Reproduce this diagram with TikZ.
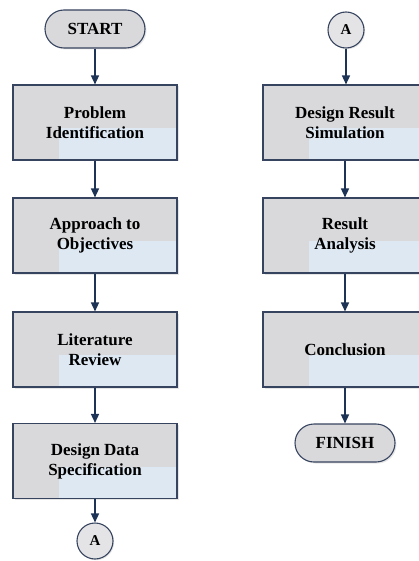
\documentclass[tikz,border=0pt]{standalone}
\usepackage{fontspec}
\setmainfont{Liberation Serif}
\usetikzlibrary{arrows.meta,shadows}

\newlength{\du}
\setlength{\du}{1pt}

\definecolor{boxgray}{RGB}{217,217,220}
\definecolor{boxblue}{RGB}{221,232,243}
\definecolor{edgeblue}{RGB}{55,68,96}
\definecolor{arrowblue}{RGB}{30,52,86}

\tikzset{
  procbox/.style={draw=edgeblue, line width=1.1\du, fill=boxgray,
    minimum width=164\du, minimum height=75\du, inner sep=0pt,
    align=center, font=\bfseries\fontsize{17}{20}\selectfont,
    drop shadow={shadow xshift=1.5\du, shadow yshift=-1.5\du, opacity=0.2},
    path picture={\fill[boxblue] ([xshift=46\du]path picture bounding box.south west)
      rectangle ([yshift=-43\du]path picture bounding box.north east);}},
  termbox/.style={draw=edgeblue, line width=1.1\du, fill=boxgray,
    minimum width=100\du, minimum height=38\du, rounded corners=19\du,
    font=\bfseries\fontsize{17}{20}\selectfont,
    drop shadow={shadow xshift=1.5\du, shadow yshift=-1.5\du, opacity=0.2}},
  linkcirc/.style={circle, draw=edgeblue, line width=1.1\du, fill=boxgray!70!white,
    minimum size=36\du, inner sep=0pt, font=\bfseries\fontsize{15}{17}\selectfont,
    drop shadow={shadow xshift=1.2\du, shadow yshift=-1.2\du, opacity=0.2}},
  flow/.style={draw=arrowblue, line width=1.5\du,
    -{Triangle[width=8pt,length=9pt]}}
}

\begin{document}
\begin{tikzpicture}
\useasboundingbox (0,0) rectangle (419\du,-561\du);

% left column
\node[termbox] (start) at (95\du,-29\du) {START};
\node[procbox] (prob) at (95\du,-122.5\du) {Problem\\Identification};
\node[procbox] (appr) at (95\du,-235.5\du) {Approach to\\Objectives};
\node[procbox] (lit) at (95\du,-349.5\du) {Literature\\Review};
\node[procbox] (spec) at (95\du,-461\du) {Design Data\\Specification};
\node[linkcirc] (linkout) at (95\du,-541\du) {A};

% right column
\node[linkcirc] (linkin) at (346\du,-30\du) {A};
\node[procbox] (sim) at (345\du,-122.5\du) {Design Result\\Simulation};
\node[procbox] (ana) at (345\du,-235.5\du) {Result\\Analysis};
\node[procbox] (conc) at (345\du,-349.5\du) {Conclusion};
\node[termbox] (finish) at (345\du,-443\du) {FINISH};

\draw[flow] (start) -- (prob);
\draw[flow] (prob) -- (appr);
\draw[flow] (appr) -- (lit);
\draw[flow] (lit) -- (spec);
\draw[flow] (spec) -- (linkout);
\draw[flow] (linkin) -- (linkin |- sim.north);
\draw[flow] (sim) -- (ana);
\draw[flow] (ana) -- (conc);
\draw[flow] (conc) -- (finish);
\end{tikzpicture}
\end{document}
